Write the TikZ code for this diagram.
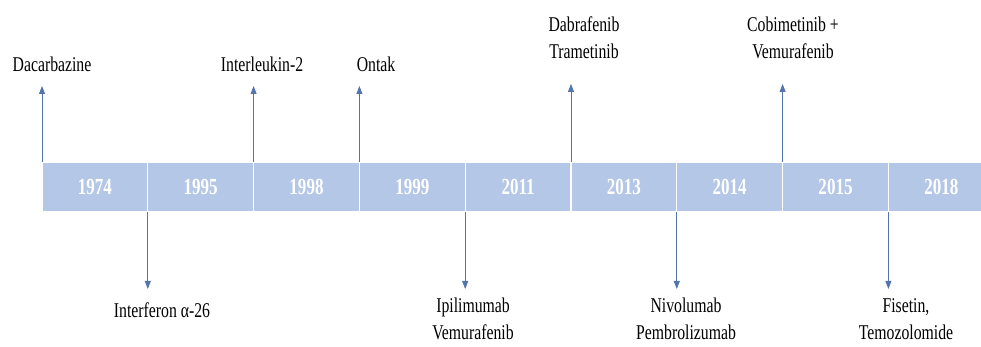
\documentclass[tikz,border=0pt]{standalone}
\usepackage{fontspec}
\setmainfont{Liberation Serif}
\newfontfamily\drugfont[FakeStretch=0.75]{Liberation Serif}
\newfontfamily\yearfont[FakeStretch=0.74]{Liberation Serif}
\usetikzlibrary{positioning,arrows.meta}
\definecolor{barblue}{RGB}{180,199,231}
\definecolor{arrblue}{RGB}{84,116,176}

\begin{document}
\begin{tikzpicture}[x=1pt, y=1pt,
    year/.style = {shape=rectangle, fill=barblue, draw=white, line width=1.2pt,
      minimum width=105.8pt, minimum height=50pt, inner sep=0pt, outer sep=0pt,
      text=white, font=\yearfont\bfseries\fontsize{23}{23}\selectfont},
    drug/.style = {align=center, inner sep=0pt,
      font=\drugfont\fontsize{21}{27}\selectfont},
    evt/.style = {draw=arrblue, line width=0.8pt,
      -{Triangle[width=6pt,length=8pt]}, arrblue}]
  \clip (0,0) rectangle (981,347);
  % the bar of years
  \node[year, anchor=west] (y1974) at (42,160) {1974};
  \node[year, right=0pt of y1974] (y1995) {1995};
  \node[year, right=0pt of y1995] (y1998) {1998};
  \node[year, right=0pt of y1998] (y1999) {1999};
  \node[year, right=0pt of y1999] (y2011) {2011};
  \node[year, right=0pt of y2011] (y2013) {2013};
  \node[year, right=0pt of y2013] (y2014) {2014};
  \node[year, right=0pt of y2014] (y2015) {2015};
  \node[year, right=0pt of y2015] (y2018) {2018};
  % drugs above the bar
  \node[drug, anchor=south] (dacarb) at (52,275) {Dacarbazine};
  \node[drug, anchor=south] (interl) at (262,275) {Interleukin-2};
  \node[drug, anchor=south] (ontak) at (376,275) {Ontak};
  \node[drug, anchor=south] (dabraf) at (584,288) {Dabrafenib\\Trametinib};
  \node[drug, anchor=south] (cobim) at (793,288) {Cobimetinib +\\Vemurafenib};
  % drugs below the bar
  \node[drug, anchor=north] (interf) at (162,44) {Interferon α-26};
  \node[drug, anchor=north] (ipili) at (473,49) {Ipilimumab\\Vemurafenib};
  \node[drug, anchor=north] (nivol) at (686,49) {Nivolumab\\Pembrolizumab};
  \node[drug, anchor=north] (fiset) at (906,49) {Fisetin,\\Temozolomide};
  % arrows
  \draw[evt, shorten >=14pt] (y1974.north west) -- (dacarb.south -| y1974.north west);
  \draw[evt, shorten >=14pt] (y1998.north west) -- (interl.south -| y1998.north west);
  \draw[evt, shorten >=14pt] (y1999.north west) -- (ontak.south -| y1999.north west);
  \draw[evt, shorten >=25pt] (y2013.north west) -- (dabraf.south -| y2013.north west);
  \draw[evt, shorten >=25pt] (y2015.north west) -- (cobim.south -| y2015.north west);
  \draw[evt, shorten >=14pt] (y1995.south west) -- (interf.north -| y1995.south west);
  \draw[evt, shorten >=9pt] (y2011.south west) -- (ipili.north -| y2011.south west);
  \draw[evt, shorten >=9pt] (y2014.south west) -- (nivol.north -| y2014.south west);
  \draw[evt, shorten >=9pt] (y2018.south west) -- (fiset.north -| y2018.south west);
\end{tikzpicture}
\end{document}
